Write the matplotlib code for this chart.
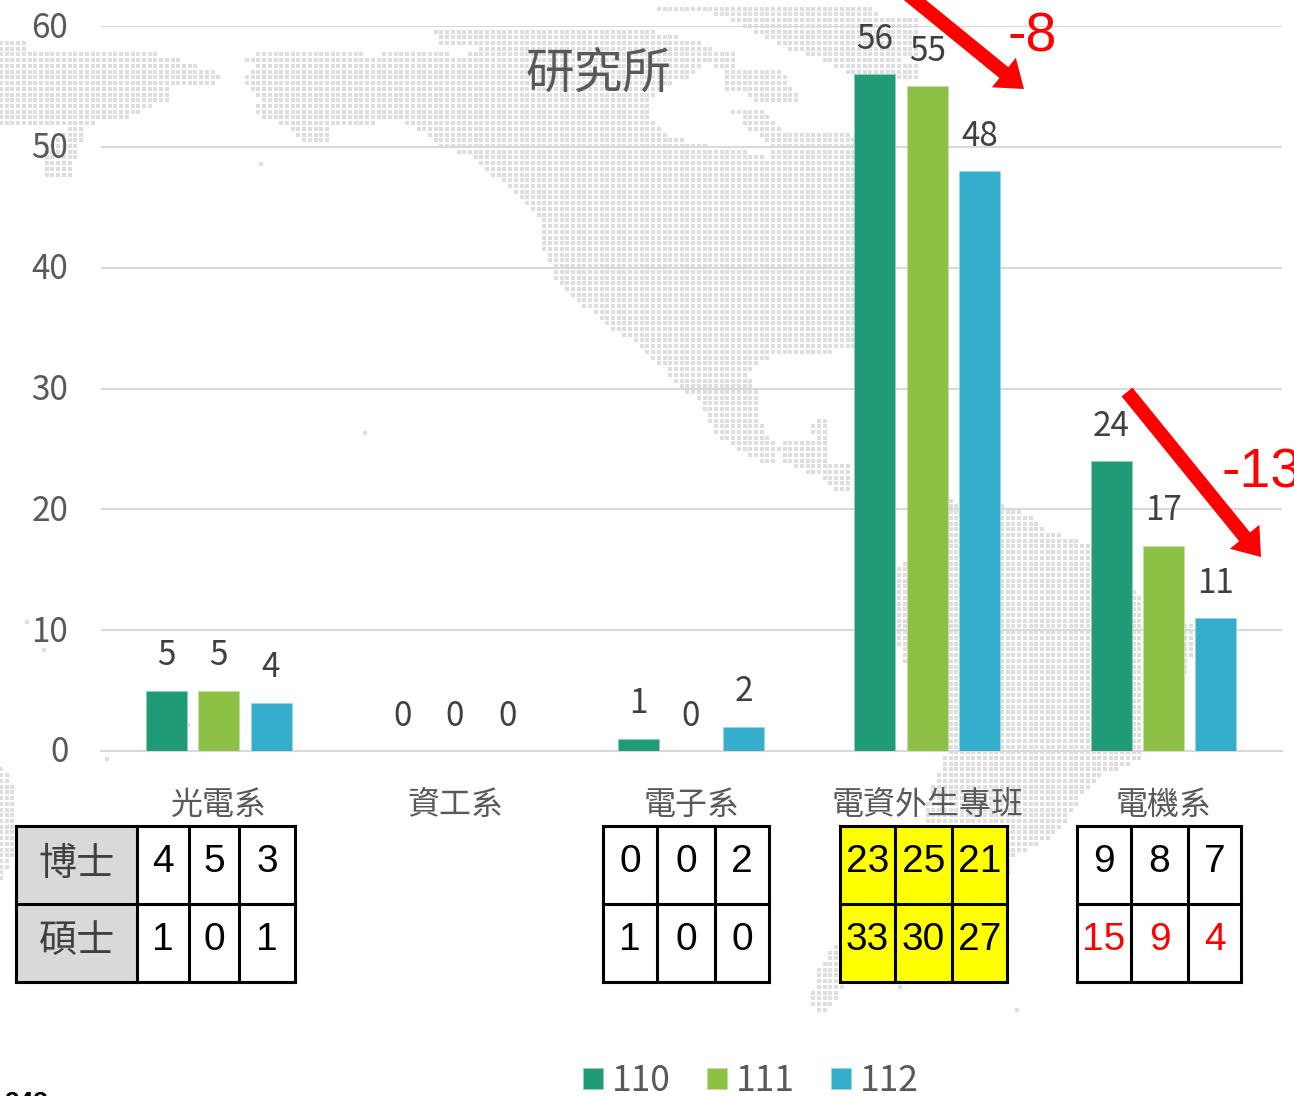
import matplotlib
matplotlib.use('Agg')
import matplotlib.pyplot as plt
import numpy as np
from matplotlib.patches import FancyArrow, Rectangle
from matplotlib.path import Path
from matplotlib.transforms import ScaledTranslation

plt.rcParams['font.family'] = ['Noto Sans CJK TC', 'DejaVu Sans']

categories = ['光電系', '資工系', '電子系', '電資外生專班', '電機系']
years = ['110', '111', '112']
values_110 = [5, 0, 1, 56, 24]
values_111 = [5, 0, 0, 55, 17]
values_112 = [4, 0, 2, 48, 11]
colors = ['#1f9b78', '#8cc146', '#35aecd']
edge_colors = ['#8fd0bc', '#c5e0a2', '#9ad7e6']
yticks = [0, 10, 20, 30, 40, 50, 60]

row_labels = ['博士', '碩士']
doctor_1 = [4, 5, 3]
master_1 = [1, 0, 1]
doctor_3 = [0, 0, 2]
master_3 = [1, 0, 0]
doctor_4 = [23, 25, 21]
master_4 = [33, 30, 27]
doctor_5 = [9, 8, 7]
master_5 = [15, 9, 4]

# rough outline of the dotted world map behind the chart, in image pixels
map_shapes = [
    [(0, 38), (25, 38), (25, 49), (63, 49), (155, 54), (178, 60), (212, 71), (224, 78), (212, 86), (170, 86),
     (172, 100), (150, 107), (135, 113), (127, 118), (87, 124), (80, 150), (70, 176), (42, 178), (42, 155),
     (66, 130), (66, 124), (34, 126), (0, 126)],
    [(243, 62), (265, 50), (320, 50), (372, 55), (403, 53), (465, 55), (483, 48), (440, 43), (432, 27), (520, 27),
     (600, 27), (660, 32), (700, 43), (717, 50), (733, 55), (735, 63), (700, 66), (690, 78), (665, 85), (660, 92),
     (648, 97), (648, 115), (665, 135), (697, 145), (750, 152), (773, 160), (772, 147), (860, 147), (860, 345),
     (835, 352), (773, 355), (757, 363), (750, 375), (757, 390), (757, 410), (767, 433), (783, 450), (772, 463),
     (763, 462), (740, 450), (713, 433), (707, 413), (697, 398), (678, 387), (667, 370), (650, 358), (643, 347),
     (610, 330), (597, 317), (577, 300), (553, 280), (552, 267), (540, 243), (540, 220), (520, 197), (500, 180),
     (483, 170), (473, 157), (437, 147), (425, 135), (415, 127), (403, 122), (330, 125), (330, 143), (305, 143),
     (283, 125), (260, 118), (255, 107), (260, 100), (243, 83), (255, 65)],
    [(683, 53), (735, 53), (735, 68), (783, 70), (790, 88), (797, 95), (797, 103), (757, 103), (770, 115), (785, 130),
     (850, 133), (860, 147), (772, 147), (760, 135), (743, 125), (737, 113), (720, 108), (757, 106), (753, 95),
     (723, 90), (723, 70)],
    [(643, 3), (875, 3), (877, 17), (917, 20), (918, 55), (900, 60), (920, 65), (922, 80), (870, 85), (840, 70),
     (820, 60), (790, 50), (750, 30), (723, 15), (660, 10)],
    [(780, 443), (825, 443), (810, 430), (816, 420), (830, 420), (828, 440), (825, 463), (853, 467), (853, 495),
     (833, 490), (820, 478), (798, 470), (780, 460)],
    [(950, 500), (1013, 507), (1037, 520), (1047, 530), (1080, 540), (1090, 547), (1142, 597), (1193, 627), (1193, 647),
     (1187, 673), (1150, 740), (1140, 760), (1100, 777), (1087, 790), (1067, 820), (1047, 840), (1013, 857), (1000, 900),
     (960, 950), (930, 985), (843, 985), (837, 1003), (823, 1017), (810, 1003), (817, 970), (833, 947), (870, 880),
     (923, 820), (933, 783), (947, 753), (930, 720), (905, 665), (897, 640), (897, 570), (920, 540), (950, 520)],
    [(0, 768), (5, 768), (15, 790), (15, 850), (8, 870), (0, 880)],
]
map_specks_x = [365, 261, 27, 44, 107, 188, 1017, 900]
map_specks_y = [433, 164, 622, 650, 759, 725, 1010, 987]


def draw_map(ax):
    xs, ys = np.meshgrid(np.arange(1, 1294, 5.72), np.arange(3, 1096, 5.72))
    pts = np.column_stack([xs.ravel(), ys.ravel()])
    mask = np.zeros(len(pts), dtype=bool)
    for shape in map_shapes:
        mask |= Path(shape).contains_points(pts)
    ax.scatter(pts[mask, 0], pts[mask, 1], s=5, marker='s', color='#dedede', linewidths=0)
    ax.scatter(map_specks_x, map_specks_y, s=5, marker='s', color='#dedede', linewidths=0)


def draw_table(ax, x_edges, rows, red_rows=()):
    y_edges = [826, 904, 982]
    for r, row in enumerate(rows):
        for c, val in enumerate(row):
            ax.text((x_edges[c] + x_edges[c + 1]) / 2, (y_edges[r] + y_edges[r + 1]) / 2 - 3, str(val),
                    family='Liberation Sans', fontsize=28, ha='center', va='center',
                    color='red' if r in red_rows else 'black')
    for y in y_edges:
        ax.plot([x_edges[0], x_edges[-1]], [y, y], color='black', lw=2.2, solid_capstyle='projecting')
    for x in x_edges:
        ax.plot([x, x], [y_edges[0], y_edges[-1]], color='black', lw=2.2, solid_capstyle='projecting')


def main():
    fig = plt.figure(figsize=(12.94, 10.96), dpi=100)

    back = fig.add_axes([0, 0, 1, 1], zorder=0)
    back.set_xlim(0, 1294)
    back.set_ylim(1096, 0)
    back.axis('off')
    draw_map(back)

    ax = fig.add_axes([101 / 1294, 1 - 751 / 1096, 1181 / 1294, 725 / 1096], zorder=1)
    ax.patch.set_alpha(0)
    x = np.arange(len(categories))
    step = 52.4 / 236.2
    width = 41 / 236.2
    for i, vals in enumerate([values_110, values_111, values_112]):
        bars = ax.bar(x + (i - 1) * step - 0.002, vals, width, color=colors[i], edgecolor=edge_colors[i], linewidth=0.7,
                      label=years[i], zorder=3)
        for b, v in zip(bars, vals):
            ax.annotate(str(v), (b.get_x() + b.get_width() / 2, v), xytext=(0, 25.2), textcoords='offset points',
                        ha='center', va='center', fontsize=24, color='#404040', zorder=4, annotation_clip=False)
    ax.set_xlim(-0.5, len(categories) - 0.5)
    ax.set_ylim(0, 60)
    ax.set_yticks(yticks)
    ax.set_xticks(x, categories)
    ax.grid(axis='y', color='#d9d9d9', linewidth=1.5, zorder=1)
    ax.set_axisbelow(True)
    for s in ['top', 'right', 'left']:
        ax.spines[s].set_visible(False)
    ax.spines['bottom'].set_color('#d9d9d9')
    ax.spines['bottom'].set_linewidth(1.5)
    ax.tick_params(axis='y', length=0, pad=23.5, labelsize=24, labelcolor='#595959')
    ax.tick_params(axis='x', length=0, pad=27.6, labelsize=23, labelcolor='#595959')
    shift = ScaledTranslation(0, 2 / 100, fig.dpi_scale_trans)
    for label in ax.get_yticklabels():
        label.set_transform(label.get_transform() + shift)

    ax.legend(loc='center', bbox_to_anchor=(751 / 1294, 1 - 1081 / 1096), bbox_transform=fig.transFigure, ncol=3,
              frameon=False, fontsize=25.5, labelcolor='#595959', handlelength=0.56, handleheight=0.56,
              handletextpad=0.25, columnspacing=1.03, borderpad=0)

    over = fig.add_axes([0, 0, 1, 1], zorder=2)
    over.set_xlim(0, 1294)
    over.set_ylim(1096, 0)
    over.axis('off')

    over.text(598, 75, '研究所', fontsize=35, color='#595959', ha='center', va='center')

    over.add_patch(Rectangle((16, 826), 121, 156, facecolor='#d9d9d9', edgecolor='none'))
    over.add_patch(Rectangle((840, 826), 167, 156, facecolor='#ffff00', edgecolor='none'))
    draw_table(over, [137, 189, 239, 295], [doctor_1, master_1])
    draw_table(over, [603, 657, 715, 769], [doctor_3, master_3])
    draw_table(over, [840, 895, 952, 1007], [doctor_4, master_4])
    draw_table(over, [1077, 1131, 1188, 1241], [doctor_5, master_5], red_rows=(1,))
    over.plot([16, 137], [826, 826], color='black', lw=2.2)
    over.plot([16, 137], [904, 904], color='black', lw=2.2)
    over.plot([16, 137], [982, 982], color='black', lw=2.2)
    over.plot([16, 16], [826, 982], color='black', lw=2.2, solid_capstyle='projecting')
    for y, label in zip([864, 942], row_labels):
        over.text(77, y, label, fontsize=27.5, color='#404040', ha='center', va='center')

    over.add_patch(FancyArrow(905, -8, 119, 97, width=14, head_width=38, head_length=26,
                              length_includes_head=True, color='red', linewidth=0))
    over.add_patch(FancyArrow(1127, 392, 134, 165, width=14, head_width=38, head_length=26,
                              length_includes_head=True, color='red', linewidth=0))
    over.text(1008, 37, '-8', family='Liberation Sans', fontsize=40, color='red', ha='left', va='center')
    over.text(1221, 474, '-13', family='Liberation Sans', fontsize=40, color='red', ha='left', va='center', clip_on=False)
    over.text(4, 1091, '243', family='Liberation Sans', weight='bold', fontsize=19, color='black', ha='left', va='top')

    fig.savefig('out.png', dpi=100)


if __name__ == '__main__':
    main()
